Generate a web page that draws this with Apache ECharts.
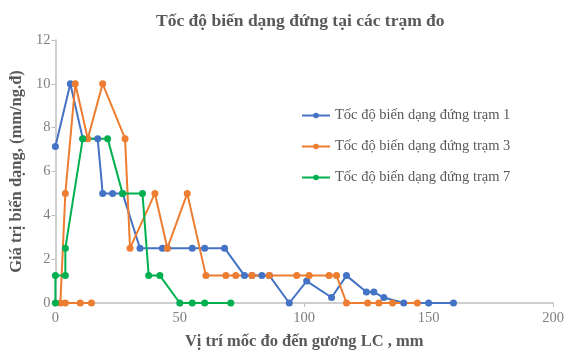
<!DOCTYPE html>
<html>
<head>
<meta charset="utf-8">
<script src="https://cdn.jsdelivr.net/npm/echarts@6/dist/echarts.min.js"></script>
<style>html,body{margin:0;padding:0;background:#fff}#c{width:568px;height:356px}</style>
</head>
<body>
<div id="c"></div>
<script>
var titleText = 'Tốc độ biến dạng đứng tại các trạm đo';
var xName = 'Vị trí mốc đo đến gương LC , mm';
var yName = 'Giá trị biến dạng, (mm/ng.đ)';
var seriesNames = ['Tốc độ biến dạng đứng trạm 1', 'Tốc độ biến dạng đứng trạm 3', 'Tốc độ biến dạng đứng trạm 7'];

var tram1 = [[0,7.14],[6,10],[11,7.5],[17,7.5],[19,5],[23,5],[27,5],[34,2.5],[43,2.5],[45,2.5],[55,2.5],[60,2.5],[68,2.5],[76,1.25],[79,1.25],[83,1.25],[86,1.25],[94,0],[101,1],[111,0.25],[117,1.25],[125,0.5],[128,0.5],[132,0.25],[140,0],[150,0],[160,0]];
var tram3 = [[14.5,0],[10,0],[4,0],[2,0],[4,5],[8,10],[13,7.5],[19,10],[28,7.5],[30,2.5],[40,5],[45,2.5],[53,5],[60.5,1.25],[68.5,1.25],[72.5,1.25],[79,1.25],[86,1.25],[97,1.25],[102,1.25],[110,1.25],[113,1.25],[117,0],[125.5,0],[130,0],[135.5,0],[145.5,0]];
var tram7 = [[0,0],[0,1.25],[4,1.25],[4,2.5],[11,7.5],[21,7.5],[27,5],[35,5],[37.5,1.25],[42,1.25],[50,0],[55,0],[60,0],[70.5,0]];

var colors = ['#4472C4', '#ED7D31', '#00B050'];
var serif = '"Liberation Serif", "DejaVu Serif", serif';

function mk(name, data, color) {
  return {
    name: name, type: 'line', data: data,
    symbol: 'circle', symbolSize: 7,
    lineStyle: {width: 2, color: color},
    itemStyle: {color: color},
    animation: false
  };
}

var chart = echarts.init(document.getElementById('c'));
chart.setOption({
  animation: false,
  title: {
    text: titleText, left: 151, top: 7,
    textStyle: {fontFamily: serif, fontSize: 17.5, fontWeight: 'bold', color: '#595959'}
  },
  legend: {
    orient: 'vertical', left: 296, top: 103, itemGap: 16,
    itemWidth: 28, itemHeight: 7,
    textStyle: {fontFamily: serif, fontSize: 14.5, color: '#595959'},
    data: seriesNames
  },
  grid: {left: 53, right: 15, top: 40, bottom: 53},
  xAxis: {
    type: 'value', min: 0, max: 200, interval: 50,
    name: xName, nameLocation: 'middle', nameGap: 30,
    nameTextStyle: {fontFamily: serif, fontSize: 16.5, fontWeight: 'bold', color: '#595959'},
    axisLine: {show: true, lineStyle: {color: '#bfbfbf', width: 1.5}},
    axisTick: {show: true, length: 4, lineStyle: {color: '#bfbfbf'}},
    axisLabel: {fontFamily: serif, fontSize: 14.5, color: '#7f7f7f', margin: 8},
    splitLine: {show: false}
  },
  yAxis: {
    type: 'value', min: 0, max: 12, interval: 2,
    name: yName, nameLocation: 'middle', nameGap: 27,
    nameTextStyle: {fontFamily: serif, fontSize: 16.5, fontWeight: 'bold', color: '#595959'},
    axisLine: {show: true, lineStyle: {color: '#bfbfbf', width: 1.5}},
    axisTick: {show: true, length: 4, lineStyle: {color: '#bfbfbf'}},
    axisLabel: {fontFamily: serif, fontSize: 14.5, color: '#7f7f7f', margin: 5},
    splitLine: {show: false}
  },
  series: [
    mk(seriesNames[0], tram1, colors[0]),
    mk(seriesNames[1], tram3, colors[1]),
    mk(seriesNames[2], tram7, colors[2])
  ]
});
</script>
</body>
</html>
